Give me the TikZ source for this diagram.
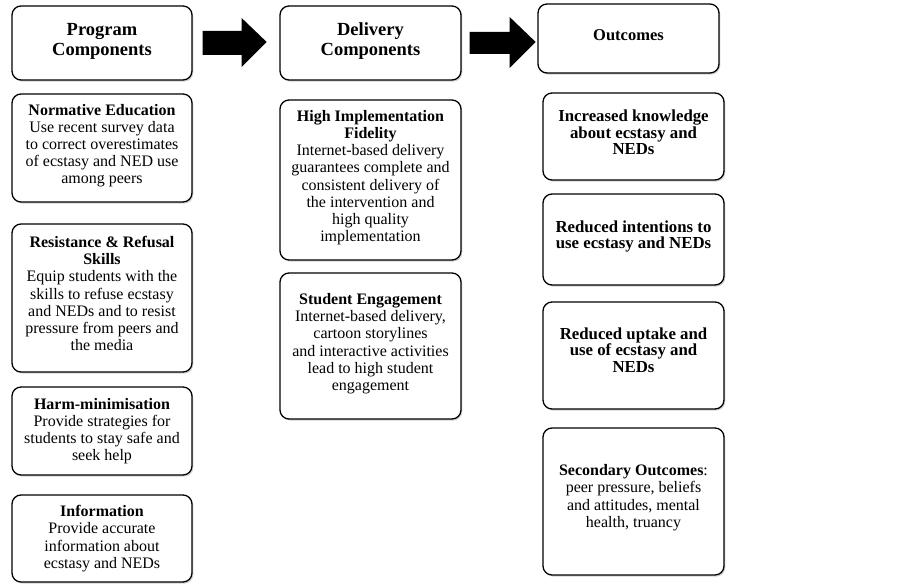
\documentclass[tikz,border=0pt]{standalone}
\usepackage{fontspec}
\setmainfont{Liberation Serif}
\usetikzlibrary{shadows,calc}
\begin{document}
\begin{tikzpicture}[x=1pt,y=-1pt,
  box/.style={draw=black, line width=1.3pt, rounded corners=9pt, fill=white, align=center, inner sep=1pt,
    font=\fontsize{16}{17.2}\selectfont,
    drop shadow={shadow xshift=1.3pt, shadow yshift=-1.6pt, opacity=0.35}},
  head/.style={box, font=\fontsize{18.5}{20}\selectfont\bfseries},
  obox/.style={box, font=\fontsize{16.8}{16.5}\selectfont\bfseries},
  bigarrow/.style={fill=black}]
\useasboundingbox (0,0) rectangle (902,586);
% column 1
\node[head, minimum width=180, minimum height=74] (pc) at (102,43) {Program\\Components\\[-12pt]};
\node[box, minimum width=180, minimum height=108] (ne) at (102,148) {\textbf{Normative Education}\\Use recent survey data\\to correct overestimates\\of ecstasy and NED use\\among peers\\[-9pt]};
\node[box, minimum width=180, minimum height=148] (rr) at (102,298) {\textbf{Resistance \& Refusal}\\\textbf{Skills}\\Equip students with the\\skills to refuse ecstasy\\and NEDs and to resist\\pressure from peers and\\the media\\[-8pt]};
\node[box, minimum width=180, minimum height=88] (hm) at (102,431) {\textbf{Harm-minimisation}\\Provide strategies for\\students to stay safe and\\seek help};
\node[box, minimum width=180, minimum height=87] (inf) at (102,538.5) {\textbf{Information}\\Provide accurate\\information about\\ecstasy and NEDs};
% column 2
\node[head, minimum width=181, minimum height=74] (dc) at (370.5,43) {Delivery\\Components\\[-12pt]};
\node[box, minimum width=181, minimum height=160] (hi) at (370.5,180) {\textbf{High Implementation}\\\textbf{Fidelity}\\Internet-based delivery\\guarantees complete and\\consistent delivery of\\the intervention and\\high quality\\implementation\\[-9pt]};
\node[box, minimum width=181, minimum height=146] (se) at (370.5,346) {\textbf{Student Engagement}\\Internet-based delivery,\\cartoon storylines\\and interactive activities\\lead to high student\\engagement\\[-9pt]};
% column 3
\node[head, font=\fontsize{16.5}{18}\selectfont\bfseries, minimum width=181, minimum height=69] (oc) at (628.5,38.5) {Outcomes\\[-11pt]};
\node[obox, minimum width=181, minimum height=87] (o1) at (633.5,136.5) {Increased knowledge\\about ecstasy and\\NEDs\\[-8pt]};
\node[obox, minimum width=181, minimum height=91] (o2) at (633.5,239.5) {Reduced intentions to\\use ecstasy and NEDs\\[-7pt]};
\node[obox, minimum width=181, minimum height=107] (o3) at (633.5,355.5) {Reduced uptake and\\use of ecstasy and\\NEDs\\[-5pt]};
\node[box, minimum width=181, minimum height=147] (o4) at (633.5,501.5) {\textbf{Secondary Outcomes}:\\peer pressure, beliefs\\and attitudes, mental\\health, truancy\\[-6pt]};
% arrows
\fill[bigarrow] ($(pc.east)+(10,-12)$) -- ++(39,0) -- ++(0,-13) -- ($(pc.east)+(74,-1)$) -- ($(pc.east)+(49,24)$) -- ++(0,-12) -- ($(pc.east)+(10,12)$) -- cycle;
\fill[bigarrow] ($(dc.east)+(8,-11)$) -- ++(40,0) -- ++(0,-15) -- ($(dc.east)+(74,-1)$) -- ($(dc.east)+(48,25)$) -- ++(0,-14) -- ($(dc.east)+(8,11)$) -- cycle;
\end{tikzpicture}
\end{document}
